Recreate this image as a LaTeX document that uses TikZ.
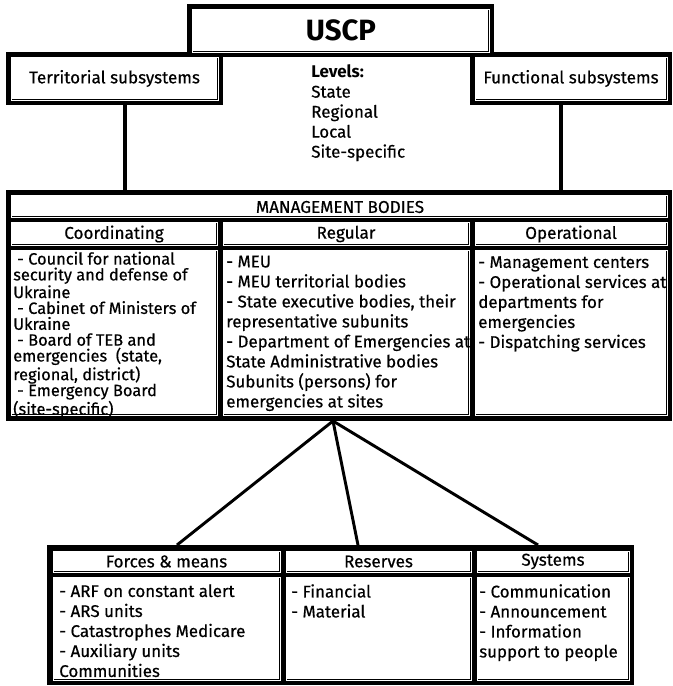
\documentclass[tikz,border=0pt]{standalone}
\usepackage{fontspec}
\setmainfont{Fira Sans}[UprightFeatures={FakeBold=0.5}]
\usepackage{tikz}

\begin{document}
\begin{tikzpicture}[x=0.75pt,y=0.75pt,yscale=-1,xscale=1,
  frame/.style={fill=black},
  cell/.style={fill=white,draw=black,line width=0.5pt,double=white,double distance=0.7pt},
  head/.style={inner sep=0pt,font=\fontsize{12.8}{14}\selectfont},
  list/.style={anchor=north west,inner sep=0pt,align=left,font=\fontsize{12.7}{15}\selectfont},
  link/.style={line width=2.2pt},
  stem/.style={line width=3.2pt}]
%set diagram left start at 0, and has height of 686
\path (0,0) rectangle (672,686);

%Shape: Rectangle
\fill [frame] (187,4) rectangle (494,57);
%Shape: Rectangle
\fill [frame] (6,52) rectangle (223,105);
%Shape: Rectangle
\fill [frame] (470,52) rectangle (672,105);
%Shape: Rectangle
\draw [cell] (192,9) rectangle (489,52);
%Shape: Rectangle
\draw [cell] (11,57) rectangle (218,100);
%Shape: Rectangle
\draw [cell] (475,57) rectangle (667,100);

%Shape: Rectangle
\fill [frame] (6,190) rectangle (672,421);
%Shape: Rectangle
\draw [cell] (11,195) rectangle (667,217);
%Shape: Rectangle
\draw [cell] (11,222) rectangle (217,245);
%Shape: Rectangle
\draw [cell] (223,222) rectangle (469,245);
%Shape: Rectangle
\draw [cell] (475,222) rectangle (667,245);
%Shape: Rectangle
\draw [cell] (11,250) rectangle (217,415);
%Shape: Rectangle
\draw [cell] (223,250) rectangle (469,415);
%Shape: Rectangle
\draw [cell] (475,250) rectangle (667,415);

%Shape: Rectangle
\fill [frame] (47,545) rectangle (634,685);
%Shape: Rectangle
\draw [cell] (53,551) rectangle (280,572);
%Shape: Rectangle
\draw [cell] (286,551) rectangle (471,572);
%Shape: Rectangle
\draw [cell] (477,551) rectangle (629,572);
%Shape: Rectangle
\draw [cell] (53,577) rectangle (280,680);
%Shape: Rectangle
\draw [cell] (286,577) rectangle (471,680);
%Shape: Rectangle
\draw [cell] (477,577) rectangle (629,680);

\coordinate (terrfoot) at (125,105);
\coordinate (mgmtleft) at (125,190);
\coordinate (funcfoot) at (561,105);
\coordinate (mgmtright) at (561,190);
\coordinate (apex) at (333,421);
\coordinate (forcestop) at (177,545);
\coordinate (reservestop) at (358,545);
\coordinate (systemstop) at (538,545);

%Straight Lines
\draw [stem] (terrfoot) -- (mgmtleft);
%Straight Lines
\draw [stem] (funcfoot) -- (mgmtright);
%Straight Lines
\draw [link] (apex) -- (forcestop);
%Straight Lines
\draw [link] (apex) -- (reservestop);
%Straight Lines
\draw [link] (apex) -- (systemstop);

% Text Node
\node [inner sep=0pt,font=\fontsize{22}{24}\selectfont\bfseries] (uscp) at (341,30) {USCP};
% Text Node
\node [head] (terr) at (114.5,78.5) {Territorial subsystems};
% Text Node
\node [head] (func) at (571,78.5) {Functional subsystems};
% Text Node
\node [list] (levels) at (311,64.5) {\textbf{Levels:}\\State\\Regional\\Local\\Site-specific};

% Text Node
\node [head] (mgmt) at (340,207) {MANAGEMENT BODIES};
% Text Node
\node [head] (coordh) at (114,234) {Coordinating};
% Text Node
\node [head] (regh) at (346,234) {Regular};
% Text Node
\node [head] (operh) at (571,234) {Operational};
% Text Node
\node [list,font=\fontsize{12.3}{11.9}\selectfont] (coordl) at (13,251.5) {\hspace*{3pt}- Council for national\\security and defense of\\Ukraine\\\hspace*{3pt}- Cabinet of Ministers of\\Ukraine\\\hspace*{3pt}- Board of TEB and\\emergencies\ \ (state,\\regional, district)\\\hspace*{3pt}- Emergency Board\\(site-specific)};
% Text Node
\node [list] (regl) at (226,255.5) {- MEU\\- MEU territorial bodies\\- State executive bodies, their\\representative subunits\\- Department of Emergencies at\\State Administrative bodies\\Subunits (persons) for\\emergencies at sites};
% Text Node
\node [list] (operl) at (478,256) {- Management centers\\- Operational services at\\departments for\\emergencies\\- Dispatching services};

% Text Node
\node [head] (forcesh) at (166.5,561.5) {Forces \& means};
% Text Node
\node [head] (resh) at (378.5,561.5) {Reserves};
% Text Node
\node [head] (sysh) at (553,561.5) {Systems};
% Text Node
\node [list] (forcesl) at (59,584) {- ARF on constant alert\\- ARS units\\- Catastrophes Medicare\\- Auxiliary units\\Communities};
% Text Node
\node [list] (resl) at (291,584) {- Financial\\- Material};
% Text Node
\node [list] (sysl) at (479,584) {- Communication\\- Announcement\\- Information\\support to people};
\end{tikzpicture}
\end{document}
